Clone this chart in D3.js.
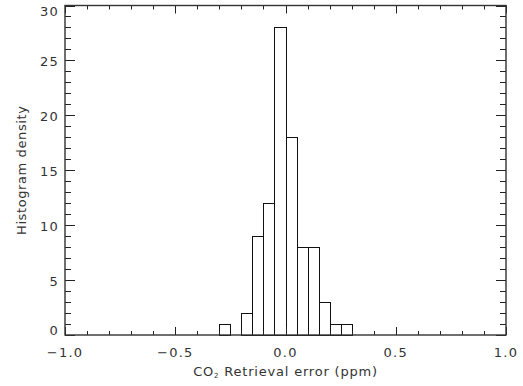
<!DOCTYPE html>
<html>
<head>
<meta charset="utf-8">
<script src="https://cdn.jsdelivr.net/npm/d3@7"></script>
<style>
  body { margin: 0; background: #fff; }
  text { font-family: "DejaVu Sans", sans-serif; fill: #333; }
</style>
</head>
<body>
<div id="chart"></div>
<script>
// histogram bins (left edge, ppm) and their density
var binLeft = [-0.30, -0.25, -0.20, -0.15, -0.10, -0.05, 0.00, 0.05, 0.10, 0.15, 0.20, 0.25],
    density = [1, 0, 2, 9, 12, 28, 18, 8, 8, 3, 1, 1],
    binWidth = 0.05;
var xMajor = [-1.0, -0.5, 0.0, 0.5, 1.0],
    yMajor = [0, 5, 10, 15, 20, 25, 30];

var width = 523, height = 386,
    margin = {top: 5.5, right: 17, bottom: 51, left: 65};

var x = d3.scaleLinear().domain([-1, 1]).range([margin.left, width - margin.right]),
    y = d3.scaleLinear().domain([0, 30]).range([height - margin.bottom, margin.top]);

var svg = d3.select("#chart").append("svg")
    .attr("width", width)
    .attr("height", height);

var x0 = x.range()[0], x1 = x.range()[1],
    y0 = y.range()[0], y1 = y.range()[1];

// bars
svg.append("g")
  .selectAll("rect")
  .data(binLeft.map(function(b, i) { return {x: b, v: density[i]}; }).filter(function(d) { return d.v > 0; }))
  .join("rect")
    .attr("x", function(d) { return Math.round(x(d.x)) + 0.5; })
    .attr("width", function(d) { return Math.round(x(d.x + binWidth)) - Math.round(x(d.x)); })
    .attr("y", function(d) { return Math.round(y(d.v)) + 0.5; })
    .attr("height", function(d) { return Math.round(y(0)) - Math.round(y(d.v)); })
    .attr("fill", "none")
    .attr("stroke", "#111")
    .attr("stroke-width", 1);

// tick helper: draws inward ticks on all four sides
function ticks(axis, vals, len, cls) {
  var g = svg.append("g").attr("class", cls);
  if (axis === "x") {
    g.selectAll("line.b").data(vals).join("line")
      .attr("x1", function(d) { return Math.round(x(d)) + 0.5; })
      .attr("x2", function(d) { return Math.round(x(d)) + 0.5; })
      .attr("y1", y0).attr("y2", y0 - len);
    g.selectAll("line.t").data(vals).join("line").attr("class", "t")
      .attr("x1", function(d) { return Math.round(x(d)) + 0.5; })
      .attr("x2", function(d) { return Math.round(x(d)) + 0.5; })
      .attr("y1", y1).attr("y2", y1 + len);
  } else {
    g.selectAll("line.l").data(vals).join("line")
      .attr("y1", function(d) { return Math.round(y(d)) + 0.5; })
      .attr("y2", function(d) { return Math.round(y(d)) + 0.5; })
      .attr("x1", x0).attr("x2", x0 + len);
    g.selectAll("line.r").data(vals).join("line").attr("class", "r")
      .attr("y1", function(d) { return Math.round(y(d)) + 0.5; })
      .attr("y2", function(d) { return Math.round(y(d)) + 0.5; })
      .attr("x1", x1).attr("x2", x1 - len);
  }
  g.selectAll("line").attr("stroke", "#222").attr("stroke-width", 1);
}

ticks("x", d3.range(-10, 11).map(function(i) { return i / 10; }), 4, "xminor");
ticks("x", xMajor, 8, "xmajor");
ticks("y", d3.range(0, 31), 6, "yminor");
ticks("y", yMajor, 10, "ymajor");

// frame
svg.append("rect")
  .attr("x", x0).attr("y", y1)
  .attr("width", x1 - x0).attr("height", y0 - y1)
  .attr("fill", "none")
  .attr("stroke", "#333")
  .attr("stroke-width", 1.4);

// tick labels
var fmt = d3.format(".1f");
svg.append("g").selectAll("text").data(xMajor).join("text")
  .attr("x", function(d) { return x(d); })
  .attr("y", y0 + 22)
  .attr("text-anchor", "middle")
  .attr("font-size", 13)
  .attr("letter-spacing", 1.2)
  .text(function(d) { return fmt(d); });

svg.append("g").selectAll("text").data(yMajor).join("text")
  .attr("x", x0 - 6)
  .attr("y", function(d) {
    // the end labels are nudged inside the frame, like the original
    var shift = d === 0 ? -5 : (d === 30 ? 6 : 1);
    return y(d) + shift;
  })
  .attr("dy", "0.35em")
  .attr("text-anchor", "end")
  .attr("font-size", 13)
  .attr("letter-spacing", 1.2)
  .text(function(d) { return d; });

// axis titles
var xt = svg.append("text")
  .attr("x", (x0 + x1) / 2)
  .attr("y", 376)
  .attr("text-anchor", "middle")
  .attr("font-size", 13)
  .attr("letter-spacing", 0.8);
xt.append("tspan").text("CO");
xt.append("tspan").attr("font-size", 7).attr("dy", 2).text("2");
xt.append("tspan").attr("dy", -2).text(" Retrieval error (ppm)");

svg.append("text")
  .attr("transform", "translate(26," + ((y0 + y1) / 2) + ") rotate(-90)")
  .attr("text-anchor", "middle")
  .attr("font-size", 13)
  .attr("letter-spacing", 0.6)
  .text("Histogram density");
</script>
</body>
</html>
